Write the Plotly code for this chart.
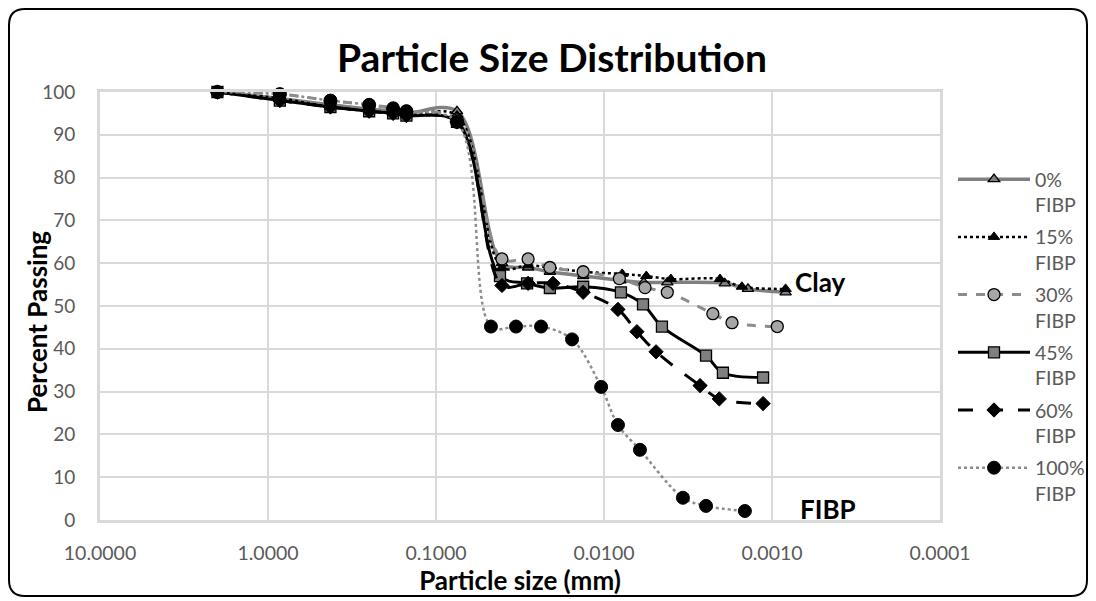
import plotly.graph_objects as go

# ---------------- data ----------------
sieve_mm = [2.0, 0.85, 0.425, 0.25, 0.18, 0.15, 0.075]

d_0 = [0.0405, 0.0283, 0.0210, 0.0133, 0.0080, 0.0058, 0.0042, 0.00191, 0.00139, 0.00083]
p_0_sieve = [100, 98.5, 97.0, 96.0, 95.5, 95.0, 95.5]
p_0_hyd = [60.0, 59.0, 58.0, 57.0, 56.0, 55.5, 55.5, 55.3, 54.0, 53.2]

d_15 = [0.0405, 0.0283, 0.0210, 0.0133, 0.0078, 0.0056, 0.0040, 0.00204, 0.00151, 0.00083]
p_15_sieve = [100, 98.5, 96.5, 95.5, 95.0, 94.5, 94.5]
p_15_hyd = [59.0, 59.5, 59.0, 58.0, 57.5, 57.0, 56.3, 56.3, 54.5, 54.0]

d_30 = [0.0405, 0.0283, 0.0210, 0.0133, 0.0081, 0.0057, 0.0042, 0.00225, 0.00173, 0.00093]
p_30_sieve = [100, 99.5, 98.0, 97.0, 96.3, 95.5, 93.5]
p_30_hyd = [61.0, 61.0, 59.0, 58.0, 56.4, 54.3, 53.2, 48.2, 46.1, 45.2]

d_45 = [0.0416, 0.0287, 0.0210, 0.0133, 0.00793, 0.00586, 0.00452, 0.00247, 0.00196, 0.00113]
p_45_sieve = [100, 98.0, 96.5, 95.5, 95.0, 94.5, 93.0]
p_45_hyd = [57.0, 55.3, 54.2, 54.5, 53.2, 50.4, 45.2, 38.4, 34.4, 33.3]

d_60 = [0.0405, 0.0283, 0.0201, 0.0133, 0.00826, 0.00637, 0.00490, 0.00268, 0.00206, 0.00113]
p_60_sieve = [100, 98.0, 96.5, 95.5, 95.0, 94.5, 93.0]
p_60_hyd = [54.8, 55.3, 55.3, 53.2, 49.2, 44.0, 39.3, 31.4, 28.3, 27.2]

d_100 = [0.0471, 0.0334, 0.0237, 0.0155, 0.0104, 0.00826, 0.00611, 0.00339, 0.00247, 0.00145]
p_100_sieve = [100, 99.5, 98.0, 97.0, 96.0, 95.5, 93.0]
p_100_hyd = [45.2, 45.2, 45.2, 42.2, 31.1, 22.2, 16.4, 5.2, 3.3, 2.1]

series_names = ["0%<br>FIBP", "15%<br>FIBP", "30%<br>FIBP", "45%<br>FIBP", "60%<br>FIBP", "100%<br>FIBP"]
x_tickvals = [10, 1, 0.1, 0.01, 0.001, 0.0001]
x_ticktext = ["10.0000", "1.0000", "0.1000", "0.0100", "0.0010", "0.0001"]

# ---------------- styles ----------------
styles = [
    dict(line=dict(color="#808080", width=3.5, dash="solid"),
         marker=dict(symbol="triangle-up", size=10, color="#7f7f7f", line=dict(color="#000000", width=1.3))),
    dict(line=dict(color="#000000", width=2.5, dash="dot"),
         marker=dict(symbol="triangle-up", size=10, color="#000000", line=dict(color="#000000", width=1))),
    dict(line=dict(color="#8c8c8c", width=3, dash="dash"),
         marker=dict(symbol="circle", size=12, color="#a6a6a6", line=dict(color="#000000", width=1.3))),
    dict(line=dict(color="#000000", width=3, dash="solid"),
         marker=dict(symbol="square", size=11, color="#7f7f7f", line=dict(color="#000000", width=1.3))),
    dict(line=dict(color="#000000", width=3, dash="longdash"),
         marker=dict(symbol="diamond", size=11, color="#000000", line=dict(color="#000000", width=1))),
    dict(line=dict(color="#8c8c8c", width=2.5, dash="dot"),
         marker=dict(symbol="circle", size=13, color="#000000", line=dict(color="#000000", width=1))),
]

all_d = [d_0, d_15, d_30, d_45, d_60, d_100]
all_sieve = [p_0_sieve, p_15_sieve, p_30_sieve, p_45_sieve, p_60_sieve, p_100_sieve]
all_hyd = [p_0_hyd, p_15_hyd, p_30_hyd, p_45_hyd, p_60_hyd, p_100_hyd]

fig = go.Figure()
for i, name in enumerate(series_names):
    xs = sieve_mm + all_d[i]
    ys = all_sieve[i] + all_hyd[i]
    st = styles[i]
    fig.add_trace(go.Scatter(
        x=xs, y=ys, name=name, mode="lines+markers",
        line=dict(shape="spline", smoothing=1.0, **st["line"]),
        marker=st["marker"], cliponaxis=False, legendgroup=f"g{i}",
    ))

# the page body adds an 8px offset; figure coordinates below are page - 8
OFF = 8
W, H = 1096 - OFF, 601 - OFF
L, R, T, B = 100 - OFF, 940 - OFF, 92 - OFF, 520 - OFF
def px(x):  # page px -> paper
    return (x - OFF - L) / (R - L)
def py(y):
    return (B - (y - OFF)) / (B - T)

x0, x1, y0, y1 = px(9), px(1087), py(596), py(9)
rx, ry = 16 / (R - L), 16 / (B - T)
path = (f"M{x0+rx},{y1} L{x1-rx},{y1} Q{x1},{y1} {x1},{y1-ry} "
        f"L{x1},{y0+ry} Q{x1},{y0} {x1-rx},{y0} L{x0+rx},{y0} "
        f"Q{x0},{y0} {x0},{y0+ry} L{x0},{y1-ry} Q{x0},{y1} {x0+rx},{y1} Z")

fig.update_layout(
    width=W, height=H,
    margin=dict(l=L, r=W - R, t=T, b=H - B, autoexpand=False),
    paper_bgcolor="white", plot_bgcolor="white",
    font=dict(family="Lato", color="#595959", size=19),
    title=dict(text="<b>Particle Size Distribution</b>", x=0.5, xanchor="center",
               y=1 - (58 - OFF) / H, yanchor="middle",
               font=dict(family="Lato", size=39, color="#000000")),
    xaxis=dict(type="log", range=[1, -4], autorange=False,
               tickvals=x_tickvals, ticktext=x_ticktext,
               showgrid=True, gridcolor="#d9d9d9", gridwidth=1.5,
               showline=True, linecolor="#d9d9d9", linewidth=3, mirror=True,
               ticks="", ticklabelstandoff=14, zeroline=False,
               tickfont=dict(size=19.5, color="#595959"),
               title=dict(text="<b>Particle size (mm)</b>", standoff=9,
                          font=dict(size=26, color="#000000"))),
    yaxis=dict(range=[0, 100], autorange=False, dtick=10,
               showgrid=True, gridcolor="#d9d9d9", gridwidth=1.5,
               showline=True, linecolor="#d9d9d9", linewidth=3, mirror=True,
               ticks="", ticklabelstandoff=18, zeroline=False,
               tickfont=dict(size=19, color="#595959")),
    legend=dict(x=px(953), y=py(160), xanchor="left", yanchor="top",
                bgcolor="rgba(0,0,0,0)", itemwidth=72, valign="top",
                tracegroupgap=4, font=dict(size=19.5, color="#595959")),
    shapes=[dict(type="path", xref="paper", yref="paper", path=path,
                 line=dict(color="#000000", width=2), fillcolor="rgba(0,0,0,0)", layer="above")],
    annotations=[
        dict(x=px(37), y=py(322), xref="paper", yref="paper", text="<b>Percent Passing</b>",
             textangle=-90, showarrow=False, xanchor="center", yanchor="middle",
             font=dict(family="Lato", size=26, color="#000000")),
        dict(x=-3.286, y=55.7, xref="x", yref="y", text="<b>Clay</b>", showarrow=False,
             font=dict(family="Lato", size=26, color="#000000")),
        dict(x=-3.333, y=2.6, xref="x", yref="y", text="<b>FIBP</b>", showarrow=False,
             font=dict(family="Lato", size=26, color="#000000")),
    ],
)

fig.write_html("out.html")
